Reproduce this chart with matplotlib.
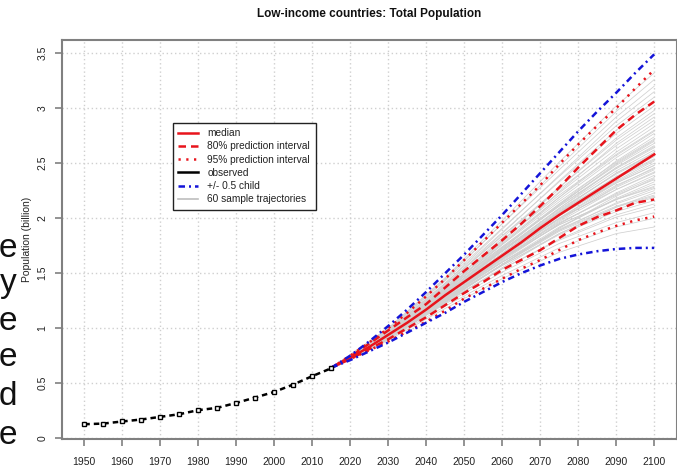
import numpy as np
import matplotlib.pyplot as plt
from matplotlib.lines import Line2D

plt.rcParams['font.family'] = ['Liberation Sans', 'DejaVu Sans']

# observed population (billion), 1950-2015
obs_years = [1950, 1955, 1960, 1965, 1970, 1975, 1980, 1985, 1990, 1995, 2000, 2005, 2010, 2015]
obs_pop = [0.127, 0.133, 0.152, 0.170, 0.194, 0.218, 0.255, 0.276, 0.321, 0.370, 0.421, 0.488, 0.564, 0.636]

# projections, 2015-2100 every 5 years
proj_years = [2015, 2020, 2025, 2030, 2035, 2040, 2045, 2050, 2055, 2060,
              2065, 2070, 2075, 2080, 2085, 2090, 2095, 2100]
median = [0.64, 0.73, 0.83, 0.94, 1.05, 1.17, 1.30, 1.42, 1.54, 1.66,
          1.78, 1.91, 2.03, 2.14, 2.25, 2.36, 2.47, 2.58]
pi80_up = [0.64, 0.74, 0.86, 0.98, 1.10, 1.22, 1.37, 1.52, 1.66, 1.80,
           1.95, 2.11, 2.28, 2.46, 2.63, 2.80, 2.94, 3.06]
pi80_lo = [0.64, 0.72, 0.81, 0.90, 1.00, 1.10, 1.21, 1.32, 1.42, 1.53,
           1.62, 1.71, 1.82, 1.93, 2.01, 2.07, 2.14, 2.17]
pi95_up = [0.64, 0.75, 0.87, 1.00, 1.14, 1.29, 1.45, 1.62, 1.79, 1.96,
           2.13, 2.30, 2.49, 2.67, 2.84, 3.00, 3.18, 3.35]
pi95_lo = [0.64, 0.72, 0.80, 0.88, 0.97, 1.06, 1.16, 1.27, 1.36, 1.45,
           1.54, 1.62, 1.71, 1.80, 1.87, 1.93, 1.98, 2.015]
half_up = [0.64, 0.75, 0.88, 1.02, 1.17, 1.33, 1.50, 1.67, 1.85, 2.03,
           2.22, 2.41, 2.60, 2.79, 2.97, 3.14, 3.32, 3.49]
half_lo = [0.64, 0.71, 0.79, 0.87, 0.96, 1.05, 1.14, 1.24, 1.33, 1.42,
           1.50, 1.57, 1.63, 1.67, 1.70, 1.72, 1.73, 1.73]

# 60 sample trajectories (values read at these years)
traj_years = [2015, 2030, 2045, 2060, 2075, 2090, 2100]
trajectories = [
    [0.64, 0.89, 1.18, 1.45, 1.69, 1.86, 1.92],
    [0.64, 0.90, 1.20, 1.48, 1.73, 1.92, 2.00],
    [0.64, 0.91, 1.22, 1.51, 1.77, 1.96, 2.05],
    [0.64, 0.91, 1.24, 1.54, 1.80, 2.01, 2.10],
    [0.64, 0.90, 1.23, 1.54, 1.81, 2.03, 2.13],
    [0.64, 0.92, 1.26, 1.57, 1.85, 2.06, 2.16],
    [0.64, 0.91, 1.25, 1.57, 1.86, 2.08, 2.19],
    [0.64, 0.93, 1.28, 1.60, 1.89, 2.11, 2.21],
    [0.64, 0.90, 1.23, 1.55, 1.86, 2.10, 2.23],
    [0.64, 0.92, 1.27, 1.60, 1.90, 2.13, 2.25],
    [0.64, 0.91, 1.25, 1.58, 1.89, 2.14, 2.27],
    [0.64, 0.93, 1.29, 1.63, 1.94, 2.17, 2.29],
    [0.64, 0.92, 1.26, 1.60, 1.92, 2.17, 2.31],
    [0.64, 0.90, 1.24, 1.58, 1.91, 2.18, 2.33],
    [0.64, 0.93, 1.29, 1.64, 1.96, 2.21, 2.35],
    [0.64, 0.92, 1.27, 1.62, 1.95, 2.22, 2.37],
    [0.64, 0.91, 1.26, 1.61, 1.95, 2.23, 2.39],
    [0.64, 0.94, 1.31, 1.67, 2.00, 2.26, 2.41],
    [0.64, 0.92, 1.27, 1.63, 1.97, 2.26, 2.42],
    [0.64, 0.93, 1.29, 1.65, 1.99, 2.28, 2.44],
    [0.64, 0.91, 1.26, 1.63, 1.98, 2.29, 2.46],
    [0.64, 0.94, 1.31, 1.68, 2.03, 2.32, 2.48],
    [0.64, 0.93, 1.29, 1.66, 2.02, 2.33, 2.50],
    [0.64, 0.92, 1.28, 1.66, 2.02, 2.34, 2.52],
    [0.64, 0.94, 1.32, 1.70, 2.06, 2.37, 2.54],
    [0.64, 0.93, 1.30, 1.68, 2.05, 2.38, 2.56],
    [0.64, 0.95, 1.33, 1.71, 2.08, 2.40, 2.58],
    [0.64, 0.92, 1.29, 1.68, 2.06, 2.41, 2.60],
    [0.64, 0.94, 1.32, 1.71, 2.09, 2.43, 2.62],
    [0.64, 0.96, 1.35, 1.74, 2.11, 2.45, 2.64],
    [0.64, 0.93, 1.30, 1.70, 2.09, 2.46, 2.66],
    [0.64, 0.95, 1.34, 1.74, 2.13, 2.48, 2.68],
    [0.64, 0.94, 1.32, 1.72, 2.12, 2.49, 2.70],
    [0.64, 0.96, 1.36, 1.76, 2.15, 2.51, 2.72],
    [0.64, 0.93, 1.31, 1.72, 2.13, 2.52, 2.74],
    [0.64, 0.95, 1.35, 1.77, 2.17, 2.55, 2.77],
    [0.64, 0.97, 1.38, 1.80, 2.21, 2.58, 2.80],
    [0.64, 0.94, 1.33, 1.76, 2.19, 2.60, 2.83],
    [0.64, 0.96, 1.37, 1.80, 2.23, 2.63, 2.86],
    [0.64, 0.98, 1.40, 1.84, 2.26, 2.66, 2.89],
    [0.64, 0.95, 1.35, 1.79, 2.24, 2.68, 2.92],
    [0.64, 0.97, 1.39, 1.84, 2.28, 2.71, 2.95],
    [0.64, 0.96, 1.37, 1.82, 2.28, 2.73, 2.98],
    [0.64, 0.98, 1.41, 1.87, 2.33, 2.77, 3.02],
    [0.64, 0.97, 1.39, 1.86, 2.34, 2.80, 3.06],
    [0.64, 0.99, 1.43, 1.91, 2.38, 2.84, 3.10],
    [0.64, 0.98, 1.41, 1.90, 2.39, 2.88, 3.15],
    [0.64, 1.00, 1.45, 1.95, 2.44, 2.92, 3.20],
    [0.64, 0.99, 1.44, 1.95, 2.47, 2.97, 3.26],
    [0.64, 1.00, 1.46, 1.98, 2.51, 3.02, 3.32],
    [0.64, 0.94, 1.30, 1.64, 1.94, 2.17, 2.28],
    [0.64, 0.90, 1.24, 1.58, 1.91, 2.20, 2.36],
    [0.64, 0.93, 1.30, 1.66, 2.00, 2.30, 2.45],
    [0.64, 0.95, 1.33, 1.70, 2.05, 2.36, 2.53],
    [0.64, 0.93, 1.31, 1.70, 2.07, 2.41, 2.59],
    [0.64, 0.95, 1.34, 1.73, 2.11, 2.46, 2.65],
    [0.64, 0.93, 1.32, 1.73, 2.12, 2.50, 2.71],
    [0.64, 0.96, 1.36, 1.78, 2.19, 2.57, 2.79],
    [0.64, 0.91, 1.27, 1.64, 2.00, 2.32, 2.48],
    [0.64, 0.92, 1.26, 1.58, 1.88, 2.10, 2.20],
]

x_ticks = list(range(1950, 2101, 10))
y_ticks = [0, 0.5, 1, 1.5, 2, 2.5, 3, 3.5]
y_ticklabels = ['0', '0.5', '1', '1.5', '2', '2.5', '3', '3.5']

# cropped slide text at the left edge
side_letters = ['e', 'y', 'e', 'e', 'd', 'e']
side_baselines = [257, 292, 330, 366, 405, 444]

W, H = 677, 468
fig = plt.figure(figsize=(W / 100, H / 100), dpi=100)
ax = fig.add_axes([61.5 / W, 1 - 439.3 / H, (677 - 61.5) / W, (439.3 - 40) / H])

frame_col = '#808080'
for traj in trajectories:
    ax.plot(traj_years, traj, color='#d0d0d0', lw=0.55, zorder=2)

lw = 1.8
ax.plot(proj_years, pi95_up, color='#e8141c', lw=lw, dashes=(0.9, 2.2), zorder=3)
ax.plot(proj_years, pi95_lo, color='#e8141c', lw=lw, dashes=(0.9, 2.2), zorder=3)
ax.plot(proj_years, pi80_up, color='#e8141c', lw=lw, dashes=(3, 2), zorder=3)
ax.plot(proj_years, pi80_lo, color='#e8141c', lw=lw, dashes=(3, 2), zorder=3)
ax.plot(proj_years, median, color='#e8141c', lw=lw, zorder=4)
ax.plot(proj_years, half_up, color='#1414d8', lw=lw, dashes=(2.6, 1.6, 0.8, 1.6), zorder=4)
ax.plot(proj_years, half_lo, color='#1414d8', lw=lw, dashes=(2.6, 1.6, 0.8, 1.6), zorder=4)
ax.plot(obs_years, obs_pop, color='black', lw=1.8, dashes=(2.2, 1.6), marker='s',
        markersize=3.4, markerfacecolor='white', markeredgecolor='black',
        markeredgewidth=1.0, zorder=5)

ax.set_xlim(1944, 2106)
ax.set_ylim(-0.01, 3.62)
ax.set_xticks(x_ticks)
ax.set_yticks(y_ticks)
ax.set_yticklabels(y_ticklabels, rotation=90, va='center')
ax.tick_params(axis='both', colors=frame_col, labelcolor='#222222', labelsize=7.5,
               length=5, width=1.2)
ax.tick_params(axis='x', pad=8)
ax.tick_params(axis='y', pad=5)
ax.grid(True, color='#cfcfcf', linestyle=(0, (1, 2)), lw=1.0, zorder=0)
for s in ax.spines.values():
    s.set_color(frame_col)
    s.set_linewidth(1.5)
ax.set_ylabel('Population (billion)', fontsize=7.5, color='#222222', labelpad=4)

fig.text(369 / W, 1 - 14 / H, 'Low-income countries: Total Population',
         ha='center', va='center', fontsize=8.5, fontweight='bold', color='#111111')

handles = [
    Line2D([], [], color='#e8141c', lw=lw),
    Line2D([], [], color='#e8141c', lw=lw, dashes=(3, 2)),
    Line2D([], [], color='#e8141c', lw=lw, dashes=(0.9, 2.2)),
    Line2D([], [], color='black', lw=lw),
    Line2D([], [], color='#1414d8', lw=lw, dashes=(2.6, 1.6, 0.8, 1.6)),
    Line2D([], [], color='#bdbdbd', lw=1.2),
]
labels = ['median', '80% prediction interval', '95% prediction interval',
          'observed', '+/- 0.5 child', '60 sample trajectories']
leg = fig.legend(handles, labels, loc='upper left',
                 bbox_to_anchor=(172.5 / W, 1 - 122.5 / H), fontsize=7.3,
                 handlelength=2.0, handletextpad=0.9, labelspacing=0.32,
                 borderpad=0.55, borderaxespad=0, fancybox=False, framealpha=1)
leg.get_frame().set_edgecolor('#222222')
leg.get_frame().set_linewidth(1.0)
for t in leg.get_texts():
    t.set_color('#222222')

for letter, yb in zip(side_letters, side_baselines):
    fig.text(17 / W, 1 - yb / H, letter, ha='right', va='baseline',
             fontsize=24, color='#111111')

fig.savefig('out.png', dpi=100)
